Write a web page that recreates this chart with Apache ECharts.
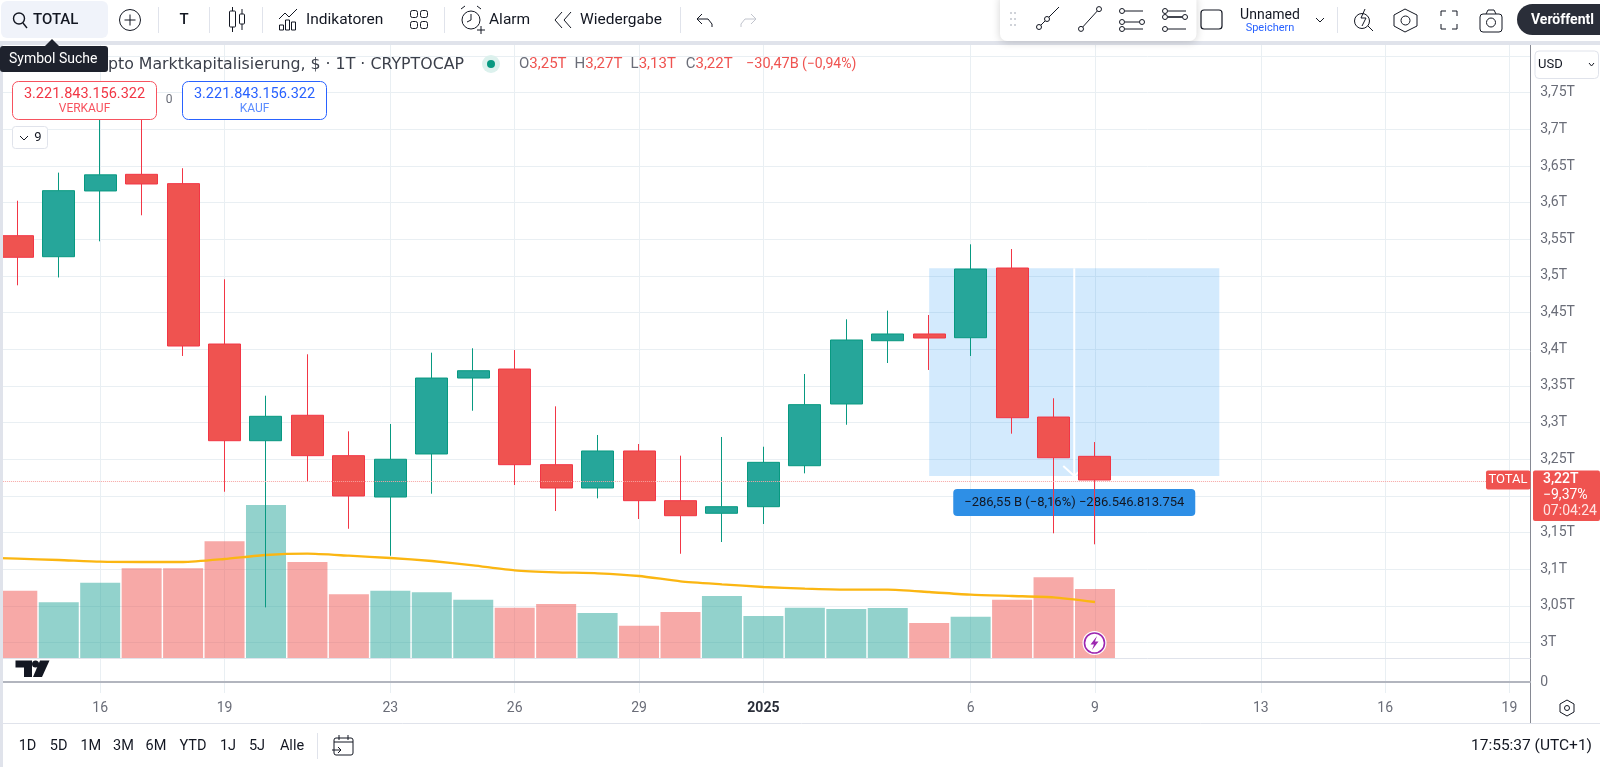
<!DOCTYPE html>
<html>
<head>
<meta charset="utf-8">
<title>TOTAL</title>
<style>
html,body{margin:0;padding:0;background:#fff;}
#main{width:1600px;height:767px;}
</style>
<script src="https://cdn.jsdelivr.net/npm/echarts@6/dist/echarts.min.js"></script>
</head>
<body>
<div id="main"></div>
<script>
// first category only carries the MA line in from the left edge
var categories = ['2024-12-13','2024-12-14','2024-12-15','2024-12-16','2024-12-17','2024-12-18','2024-12-19','2024-12-20','2024-12-21','2024-12-22','2024-12-23','2024-12-24','2024-12-25','2024-12-26','2024-12-27','2024-12-28','2024-12-29','2024-12-30','2024-12-31','2025-01-01','2025-01-02','2025-01-03','2025-01-04','2025-01-05','2025-01-06','2025-01-07','2025-01-08','2025-01-09','2025-01-10','2025-01-11','2025-01-12','2025-01-13','2025-01-14','2025-01-15','2025-01-16','2025-01-17','2025-01-18','2025-01-19'];
var dayLabels = {'2024-12-16':'16','2024-12-19':'19','2024-12-23':'23','2024-12-26':'26','2024-12-29':'29','2025-01-01':'2025','2025-01-06':'6','2025-01-09':'9','2025-01-13':'13','2025-01-16':'16','2025-01-19':'19'};

// prices in T
var priceOpen = ['-',3.555,3.5263,3.616,3.6387,3.626,3.4072,3.2753,3.31,3.2549,3.1985,3.2572,3.3608,3.3731,3.2426,3.2108,3.2613,3.1935,3.1763,3.1853,3.2412,3.3254,3.4117,3.4209,3.4158,3.5109,3.3076,3.254];
var priceClose = ['-',3.5255,3.6164,3.638,3.6255,3.4045,3.2753,3.3086,3.2549,3.1999,3.25,3.3608,3.3708,3.2426,3.2108,3.2613,3.1935,3.173,3.1853,3.2458,3.3245,3.4127,3.4209,3.4154,3.5095,3.3067,3.2521,3.2217];
var priceLow = ['-',3.4873,3.498,3.5473,3.5828,3.3909,3.2057,3.048,3.2194,3.1552,3.1184,3.203,3.3162,3.2149,3.1794,3.1967,3.1685,3.1211,3.1371,3.1617,3.2308,3.2971,3.3813,3.3718,3.3909,3.2849,3.149,3.134];
var priceHigh = ['-',3.6027,3.641,3.72,3.715,3.647,3.4955,3.3367,3.3932,3.2881,3.2981,3.3954,3.4014,3.399,3.3222,3.2831,3.2708,3.2549,3.2804,3.2671,3.3663,3.4409,3.4527,3.4468,3.5432,3.5368,3.3332,3.2735];
var volume = ['-',67.3,55.7,75.3,89.7,89.7,116.7,153,96,63.7,67.3,65.7,58.3,50.3,54,45,32.3,46,62,42,50.3,49,50,35,41.3,58.3,80.7,69];
var volumeMA = [100.5,99.3,98,96.3,96,96,99,103,104.3,102.3,100,97,92.7,87.7,85.7,84.7,82,76.7,73.7,71,69.3,68.3,68.3,66,63.3,62,60.7,56];

var priceTicks = [3,3.05,3.1,3.15,3.2,3.25,3.3,3.35,3.4,3.45,3.5,3.55,3.6,3.65,3.7,3.75];
var priceGridLines = [3,3.05,3.1,3.15,3.2,3.25,3.3,3.35,3.4,3.45,3.5,3.55,3.6,3.65,3.7,3.75,3.8];
var lastPrice = 3.2217;

// measure tool: first slot, last slot, top price, bottom price
var measureBox = [23,30,3.5105,3.2272];
var measureText = '\u2212286,55 B (\u22128,16%) \u2212286.546.813.754';

var UP = '#26a69a', DOWN = '#ef5350';
var GRID = '#e9eff3', BORDER = '#e0e3eb', INK = '#131722', GREY = '#6a6d78';
var FONT = 'Roboto, "Liberation Sans", sans-serif';

var volumeBars = volume.map(function(v, i){
  if(v === '-') return '-';
  return {value: v, itemStyle: {color: priceClose[i] >= priceOpen[i] ? 'rgba(38,166,154,0.5)' : 'rgba(239,83,80,0.5)'}};
});
var candles = priceOpen.map(function(o, i){
  return o === '-' ? '-' : [o, priceClose[i], priceLow[i], priceHigh[i]];
});

// ---- graphic helpers, everything around the plot is drawn with these
function txt(x, y, s, fill, size, align, weight, family){
  return {type:'text', z:20, style:{x:x, y:y, text:s, fill:fill||INK, textAlign:align||'left', textVerticalAlign:'middle', font:(weight||'normal')+' '+(size||14)+'px '+(family||FONT)}};
}
function ln(x1, y1, x2, y2, color, w){
  return {type:'line', z:20, shape:{x1:x1,y1:y1,x2:x2,y2:y2}, style:{stroke:color||INK, lineWidth:w||1}};
}
function box(x, y, w, h, fill, stroke, r, lw){
  return {type:'rect', z:20, shape:{x:x,y:y,width:w,height:h,r:r||0}, style:{fill:fill||'none', stroke:stroke||'none', lineWidth:lw||1}};
}
function ring(x, y, r, stroke, fill, lw){
  return {type:'circle', z:20, shape:{cx:x,cy:y,r:r}, style:{fill:fill||'none', stroke:stroke===undefined ? INK : (stroke||'none'), lineWidth:lw||1}};
}
function poly(points, color, w){
  return {type:'polyline', z:20, shape:{points:points}, style:{stroke:color||INK, lineWidth:w||1, fill:'none'}};
}
function shape(points, fill){
  return {type:'polygon', z:20, shape:{points:points}, style:{fill:fill}};
}
function toolLine(x1, y1, x2, y2, a, b){
  return [ln(x1,y1,x2,y2), ring(a,y1+(y2-y1)*(a-x1)/(x2-x1),2.5,INK,'#fff'), ring(b,y1+(y2-y1)*(b-x1)/(x2-x1),2.5,INK,'#fff')];
}

var g = [];
// frame
g.push(box(0,41,1600,4,BORDER));
g.push(box(0,45,3,722,BORDER));
g.push(ln(3,723.5,1600,723.5,BORDER));
g.push(ln(1530.5,693,1530.5,723,'#868993'));

// top toolbar
g.push(box(1,1,107,37,'#f0f3fa',null,6));
g.push(ring(19,18.5,5.5,INK,null,1.4), ln(23,23,27,28,INK,1.4));
g.push(txt(33,20,'TOTAL',INK,15,'left','500'));
g.push(ring(130,20,10.5), ln(124.5,20,135.5,20), ln(130,14.5,130,25.5));
[158,209,262,444,680].forEach(function(x){ g.push(ln(x+.5,7,x+.5,33,BORDER)); });
g.push(txt(184,20,'T',INK,15,'center','500'));
g.push(box(229.5,11,6,16,'none',INK,1), ln(232.5,7,232.5,11), ln(232.5,27,232.5,32));
g.push(box(239.5,14,5,10,'none',INK,1), ln(242,9,242,14), ln(242,24,242,30));
g.push(poly([[279,19],[285,13],[289,17],[297,9]]), box(279.5,25,4,5,'none',INK), box(285.5,20,4,10,'none',INK), box(291.5,22,4,8,'none',INK));
g.push(txt(306,20,'Indikatoren',INK,15.5));
g.push(box(410.5,10.5,7,7,'none',INK,2), box(420.5,10.5,7,7,'none',INK,2), box(410.5,21.5,7,7,'none',INK,2), box(420.5,21.5,7,7,'none',INK,2));
g.push(ring(471,20,9), poly([[471,14],[471,20],[467,22]]), ln(461,9,465,6), ln(481,9,477,6), ln(477,30,485,30), ln(481,26,481,34));
g.push(txt(489,20,'Alarm',INK,15.5));
g.push(poly([[562,12],[555,20],[562,28]]), poly([[571,12],[564,20],[571,28]]));
g.push(txt(580,20,'Wiedergabe',INK,15.5));
g.push(poly([[702,14],[697,19],[702,24]]), poly([[697,19],[708,19],[712,24],[712,27]]));
g.push(poly([[751,14],[756,19],[751,24]],'#c1c4cd'), poly([[756,19],[745,19],[741,24],[741,27]],'#c1c4cd'));

// floating drawing bar
var bar = box(1000,-6,196.5,47,'#fff',null,7);
bar.style.shadowBlur = 8; bar.style.shadowColor = 'rgba(0,0,0,0.18)'; bar.style.shadowOffsetY = 1;
g.push(bar);
[[1011,13],[1015,13],[1011,19],[1015,19],[1011,25],[1015,25]].forEach(function(p){ g.push(ring(p[0],p[1],1,null,'#c1c4cd')); });
g = g.concat(toolLine(1037,29,1059,7,1039,1047));
g = g.concat(toolLine(1080,30,1100,8,1081,1099));
g.push(ring(1122,11,2.5),ln(1125,11,1143,11),ring(1122,22,2.5),ring(1142,22,2.5),ln(1125,22,1139,22),ring(1122,29,2.5),ln(1125,29,1143,29));
g.push(ring(1165,11,2.5),ln(1168,11,1186,11),ring(1165,17,2.5),ring(1185,17,2.5),ln(1168,17,1182,17,INK,1.6),ring(1165,29,2.5),ln(1168,29,1186,29));
g.push(box(1201,10,21,19,'none',INK,3,1.2));
g.push(txt(1270,15,'Unnamed',INK,14,'center'));
g.push(txt(1270,28,'Speichern','#2962ff',11,'center'));
g.push(poly([[1316,18],[1320,22],[1324,18]]));
g.push(ln(1337.5,7,1337.5,33,BORDER));
g.push(ring(1362,21,7.5), ln(1368,26,1373,31), poly([[1365,9],[1361,18],[1366,18],[1362,26]]));
g.push(poly([[1405,9],[1417,15],[1417,26],[1405,32],[1394,26],[1394,15],[1405,9]]), ring(1405.5,20.5,4.5));
g.push(poly([[1441,16],[1441,11],[1446,11]]), poly([[1452,11],[1457,11],[1457,16]]), poly([[1457,24],[1457,29],[1452,29]]), poly([[1446,29],[1441,29],[1441,24]]));
g.push(box(1480,14,22,18,'none',INK,3), ring(1491,22.5,4.5), poly([[1486,14],[1488,10],[1494,10],[1496,14]]));
g.push(box(1517,4,100,31,'#2a2e39',null,15.5));
g.push(txt(1531,20,'Ver\u00f6ffentl','#fff',14,'left','bold'));

// legend row
g.push(txt(464,65,'Crypto Marktkapitalisierung, $ \u00b7 1T \u00b7 CRYPTOCAP','#3b3f4a',15.8,'right','normal','"DejaVu Sans", sans-serif'));
g.push(ring(491,64,9,null,'#dcf1ed'), ring(491,64,4,null,'#089981'));
[['O','3,25T',519],['H','3,27T',574.5],['L','3,13T',630.6],['C','3,22T',685.7]].forEach(function(t){
  g.push({type:'text', z:20, style:{x:t[2], y:64, textVerticalAlign:'middle', font:'15px '+FONT, fill:GREY,
    text:t[0]+'{v|'+t[1]+'}', rich:{v:{fill:DOWN, font:'15px '+FONT}}}});
});
g.push(txt(746,64,'\u221230,47B',DOWN,14.5));
g.push(txt(802,64,'(\u22120,94%)',DOWN,14));
g.push({type:'polygon', z:30, shape:{points:[[45,46],[52,39],[59,46]]}, style:{fill:'#1e222d'}});
var tipBox = box(0,46,108,26,'#1e222d',null,3); tipBox.z = 30; g.push(tipBox);
var tipTxt = txt(9,59,'Symbol Suche','#fff',14); tipTxt.z = 31; g.push(tipTxt);

// buy / sell buttons
g.push(box(12.5,81.5,144,38,'#fff','#f7525f',6));
g.push(txt(84.5,94,'3.221.843.156.322','#f23645',14.5,'center'));
g.push(txt(84.5,109,'VERKAUF','#f7525f',12,'center'));
g.push(txt(169,100,'0',GREY,12,'center'));
g.push(box(182.5,81.5,144,38,'#fff','#2962ff',6));
g.push(txt(254.5,94,'3.221.843.156.322','#2962ff',14.5,'center'));
g.push(txt(254.5,109,'KAUF','#5b8cff',12,'center'));
g.push(box(12.5,126.5,35,22,'#fff',BORDER,3));
g.push(poly([[20,136],[24,140],[28,136]]));
g.push(txt(38,137.5,'9',INK,13,'center'));

// price scale extras
g.push(box(1535,51,63.5,27.5,'#fff',BORDER,4));
g.push(txt(1538,65,'USD',INK,13));
g.push(poly([[1589,63],[1591.5,66],[1594,63]]));
g.push(box(1486,470.5,44.5,19,DOWN,null,2));
g.push(txt(1508,480,'TOTAL','#fff',13,'center'));
g.push(box(1533,470.5,67,50.5,DOWN,null,2));
g.push(txt(1543,479.5,'3,22T','#fff',14,'left','500'));
g.push(txt(1543,495.5,'\u22129,37%','#fff',14));
g.push(txt(1543,511,'07:04:24','#ffe3e2',14));

// badge and logo inside the plot
g.push(ring(1094.5,643,12,null,'#fff'), ring(1094.5,643,10,'#9c27b0','#fff',1.6));
g.push(shape([[1097,636],[1090.5,644.5],[1094,644.5],[1092,650],[1098.5,641.5],[1095,641.5]],'#9c27b0'));
g.push(shape([[15.5,660.5],[32,660.5],[32,677],[24,677],[24,667.5],[15.5,667.5]],'#131722'));
g.push(ring(35.5,664,3.5,null,'#131722'));
g.push(shape([[40,660.5],[49.5,660.5],[42,677],[33,677]],'#131722'));

// x axis corner and bottom bar
g.push(poly([[1567,700],[1574,704],[1574,712],[1567,716],[1560,712],[1560,704],[1567,700]]), ring(1567,708,2.5));
[['1D',27.5],['5D',58.7],['1M',90.8],['3M',123.5],['6M',156],['YTD',193],['1J',228],['5J',257],['Alle',292]].forEach(function(t){
  g.push(txt(t[1],746,t[0],INK,14.5,'center'));
});
g.push(ln(317.5,733,317.5,759,BORDER));
g.push(box(334,738,19,17,'none',INK,2), ln(334,742,353,742), ln(339,735,339,740), ln(348,735,348,740), poly([[332,750],[341,750]]), poly([[338,747],[341,750],[338,753]]));
g.push(txt(1592,746,'17:55:37 (UTC+1)',INK,15.5,'right'));

function renderMeasure(params, api){
  var left = api.coord([api.value(0), api.value(2)]);
  var right = api.coord([api.value(1), api.value(3)]);
  var mid = (left[0] + right[0]) / 2;
  return {type:'group', children:[
    {type:'rect', shape:{x:left[0], y:left[1], width:right[0]-left[0], height:right[1]-left[1]}, style:{fill:'rgba(33,150,243,0.2)'}},
    {type:'line', shape:{x1:mid, y1:left[1], x2:mid, y2:right[1]}, style:{stroke:'#fff', lineWidth:2}},
    {type:'polyline', shape:{points:[[mid-11,right[1]-10],[mid,right[1]],[mid+11,right[1]-10]]}, style:{stroke:'#fff', lineWidth:2, fill:'none'}},
    {type:'rect', shape:{x:mid-121, y:right[1]+13, width:242, height:27, r:4}, style:{fill:'#2e8fe6'}},
    {type:'text', style:{x:mid, y:right[1]+26.5, text:measureText, fill:INK, textAlign:'center', textVerticalAlign:'middle', font:'13px '+FONT}}
  ]};
}

var option = {
  animation: false,
  backgroundColor: '#fff',
  textStyle: {fontFamily: FONT},
  grid: [
    {left:-44.875, right:69.8, top:45, bottom:109, outerBoundsMode:'none'},
    {left:-44.875, right:69.8, top:658, bottom:74, outerBoundsMode:'none'}
  ],
  xAxis: [
    {
      type:'category', gridIndex:0, data:categories, boundaryGap:true,
      axisLine:{show:true, lineStyle:{color:BORDER}}, axisTick:{show:false}, axisLabel:{show:false},
      splitLine:{show:true, alignWithLabel:true, lineStyle:{color:GRID}, interval:function(i, v){ return !!dayLabels[v]; }}
    },
    {
      type:'category', gridIndex:1, data:categories, boundaryGap:true,
      axisLine:{show:true, lineStyle:{color:'#b2b5be', width:2}}, axisTick:{show:false},
      axisLabel:{
        interval:function(i, v){ return !!dayLabels[v]; },
        formatter:function(v){ return dayLabels[v] === '2025' ? '{b|2025}' : dayLabels[v]; },
        color:GREY, fontSize:14, margin:8, hideOverlap:false,
        rich:{b:{fontWeight:'bold', color:'#2a2e39', fontSize:14}}
      },
      splitLine:{show:true, alignWithLabel:true, lineStyle:{color:GRID}, interval:function(i, v){ return !!dayLabels[v]; }}
    }
  ],
  yAxis: [
    {
      type:'value', gridIndex:0, position:'right', min:2.9789, max:3.8151, scale:true,
      axisLine:{show:true, lineStyle:{color:'#868993'}},
      axisTick:{show:false, customValues:priceGridLines},
      axisLabel:{customValues:priceTicks, color:GREY, fontSize:14, margin:10, formatter:function(v){ return String(+v.toFixed(2)).replace('.', ',') + 'T'; }},
      splitLine:{show:true, lineStyle:{color:GRID}}
    },
    {type:'value', gridIndex:0, position:'right', min:0, max:613, show:false, splitLine:{show:false}},
    {
      type:'value', gridIndex:1, position:'right', min:-11, max:24,
      axisLine:{show:true, lineStyle:{color:'#868993'}},
      axisTick:{show:false, customValues:[0]},
      axisLabel:{customValues:[0], color:GREY, fontSize:14, margin:10},
      splitLine:{show:true, lineStyle:{color:GRID}}
    }
  ],
  series: [
    {
      name:'Messung', type:'custom', xAxisIndex:0, yAxisIndex:0, z:1, silent:true, clip:false,
      data:[measureBox], encode:{x:[0,1], y:[2,3]}, renderItem:renderMeasure
    },
    {
      name:'Volumen', type:'bar', xAxisIndex:0, yAxisIndex:1, z:2, barWidth:40, data:volumeBars, silent:true
    },
    {
      name:'Volumen MA', type:'line', xAxisIndex:0, yAxisIndex:1, z:3, data:volumeMA, showSymbol:false, smooth:0.2,
      lineStyle:{color:'#fbb612', width:2.3}, silent:true
    },
    {
      name:'TOTAL', type:'candlestick', xAxisIndex:0, yAxisIndex:0, z:4, barWidth:32.5, data:candles, silent:true,
      itemStyle:{color:UP, color0:DOWN, borderColor:'#089981', borderColor0:'#f23645', borderWidth:1},
      markLine:{
        silent:true, symbol:'none', label:{show:false}, animation:false,
        lineStyle:{type:'dotted', color:'#f7a5a3', width:1},
        data:[{yAxis:lastPrice}]
      }
    }
  ],
  graphic: {elements: g}
};

var chart = echarts.init(document.getElementById('main'));
chart.setOption(option);
</script>
</body>
</html>
